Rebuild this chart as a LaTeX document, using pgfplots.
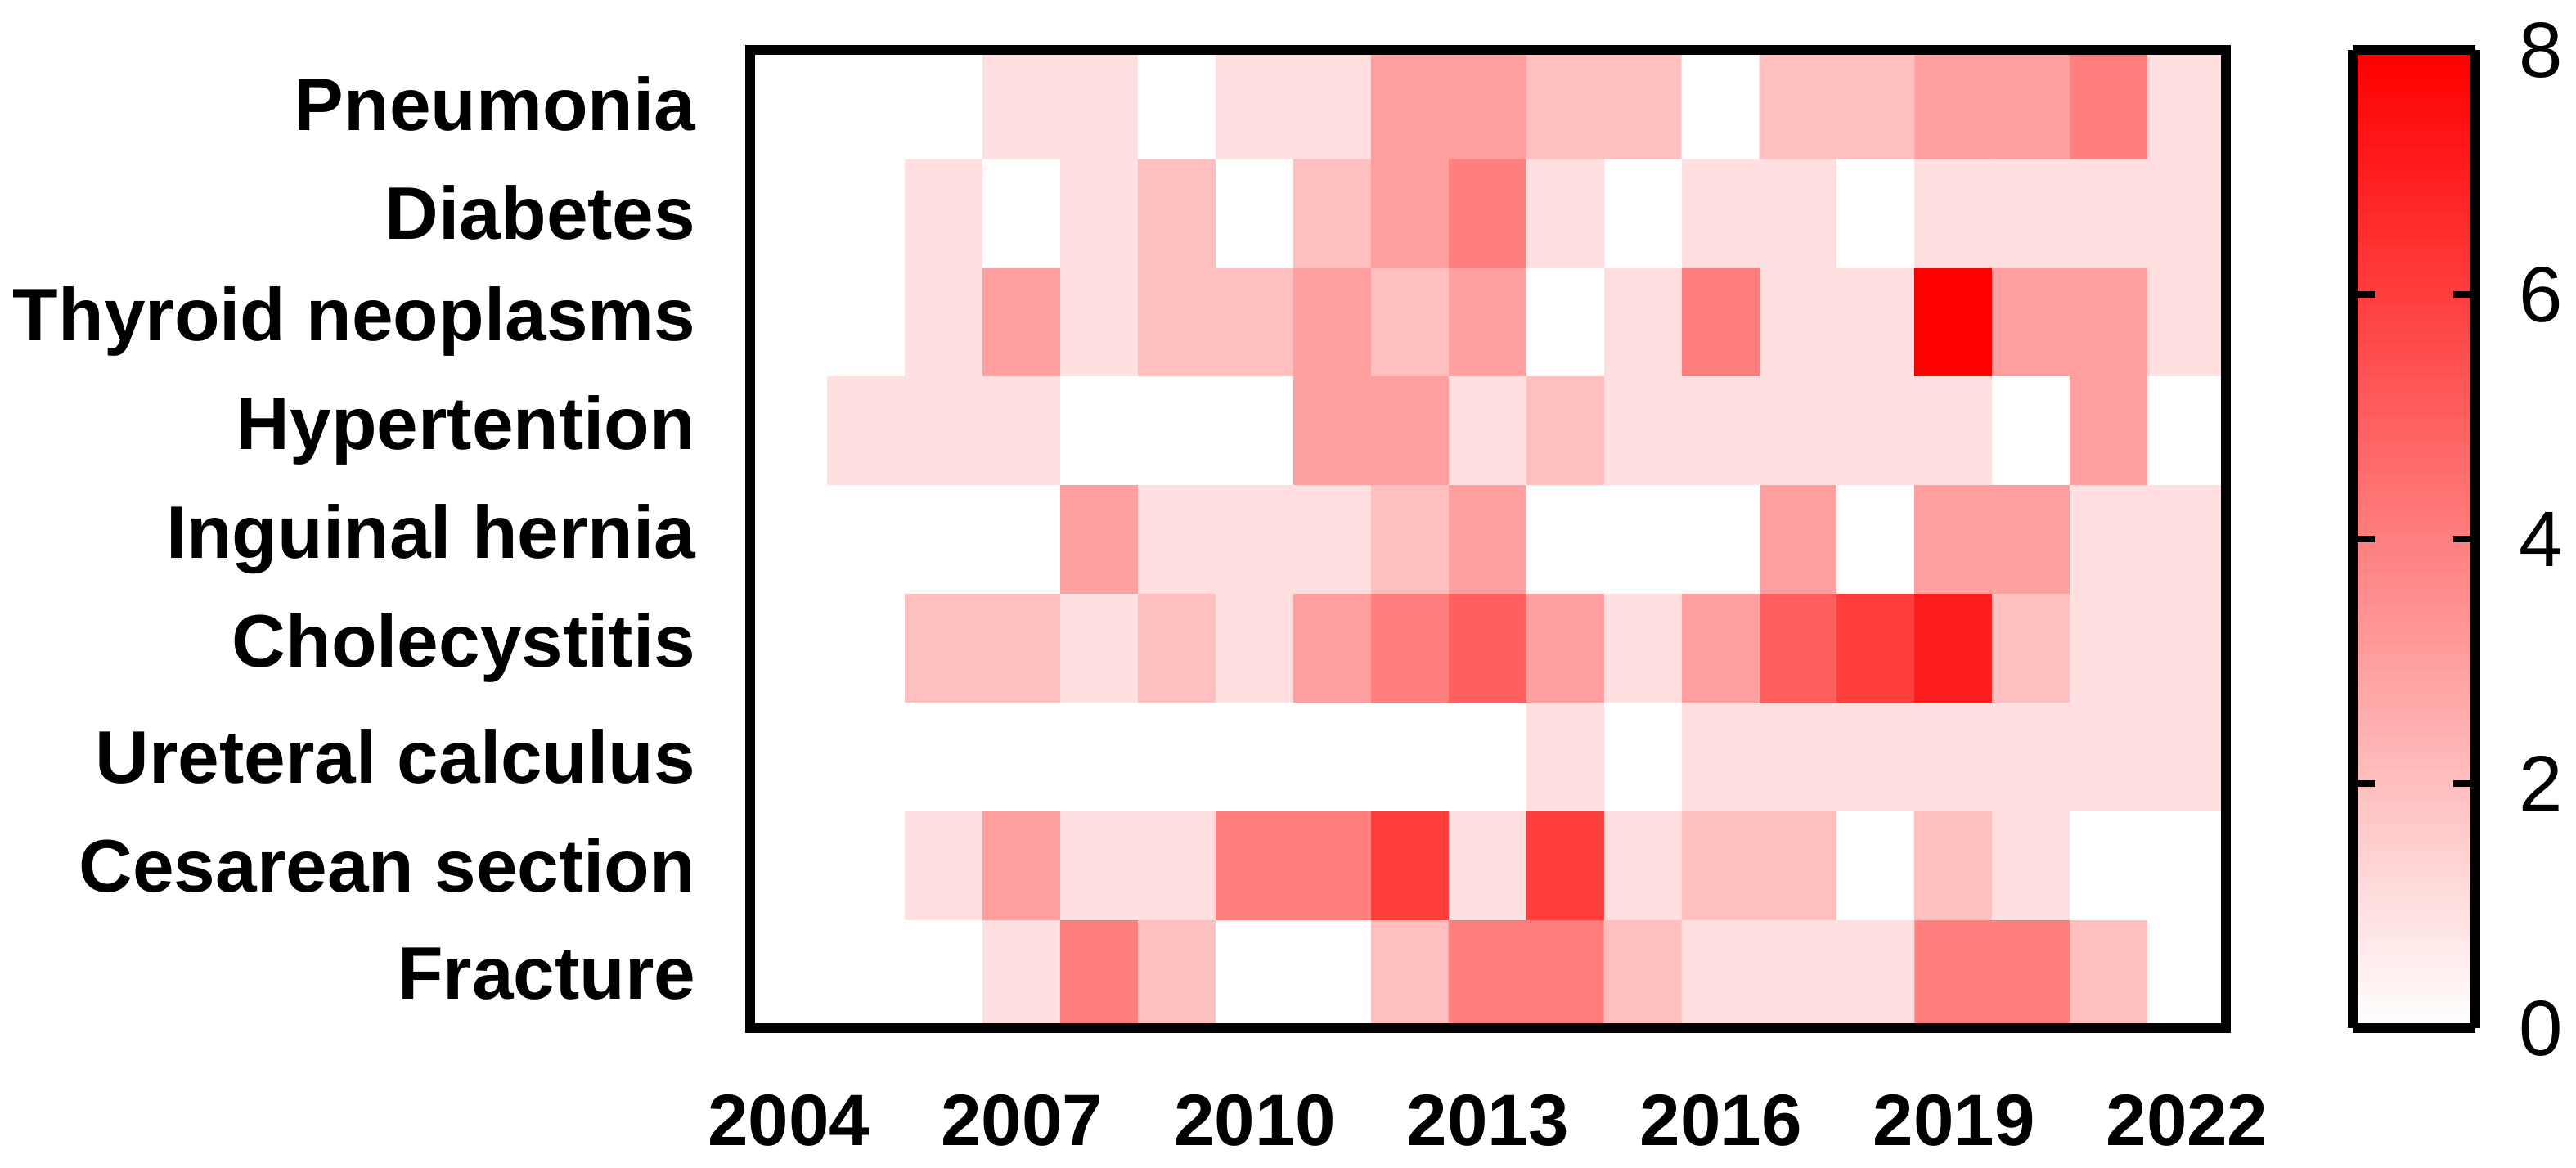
\documentclass[border=0pt]{standalone}
\usepackage{pgfplots}
\pgfplotsset{compat=1.18}
\usepackage{fontspec}
\setmainfont{Liberation Sans}
\begin{document}
\begin{tikzpicture}
\begin{axis}[
  name=main,
  scale only axis,
  width=451pt, height=299pt,
  xmin=-0.5, xmax=18.5, ymin=-0.5, ymax=8.5,
  axis on top,
  axis line style={line width=2.8pt, black},
  xtick={0,3,6,9,12,15,18},
  xticklabels={2004,2007,2010,2013,2016,2019,2022},
  ytick={0,1,2,3,4,5,6,7,8},
  yticklabels={Fracture,Cesarean section,Ureteral calculus,Cholecystitis,Inguinal hernia,Hypertention,Thyroid neoplasms,Diabetes,Pneumonia},
  major tick length=0pt,
  xticklabel style={font=\fontsize{22.25}{26}\selectfont\bfseries, inner sep=0pt, anchor=north, yshift=-20.25pt},
  yticklabel style={font=\fontsize{22.75}{26}\selectfont\bfseries, inner sep=0pt, anchor=east, xshift=-16.5pt},
  colormap={wr}{rgb255=(255,255,255) rgb255=(255,0,0)},
  point meta min=0, point meta max=8,
  colorbar sampled,
  colorbar style={
    samples=121,
    at={(parent axis.north east)}, anchor=north west, xshift=30.2pt,
    width=37.5pt,
    axis on top,
    axis line style={line width=2.8pt, black},
    ytick={0,2,4,6,8},
    yticklabels={0,2,4,6,8},
    yticklabel pos=right,
    tick align=inside,
    major tick length=6.8pt,
    tick style={line width=2pt, black},
    yticklabel style={font=\fontsize{24}{28}\selectfont, inner sep=0pt, anchor=west, xshift=13.25pt},
  },
]
\addplot[matrix plot*, mesh/cols=19, point meta=explicit] table[row sep=\\, x=x, y=y, meta=c] {
x y c\\
0 0 0\\1 0 0\\2 0 0\\3 0 1\\4 0 4\\5 0 2\\6 0 0\\7 0 0\\8 0 2\\9 0 4\\10 0 4\\11 0 2\\12 0 1\\13 0 1\\14 0 1\\15 0 4\\16 0 4\\17 0 2\\18 0 0\\
0 1 0\\1 1 0\\2 1 1\\3 1 3\\4 1 1\\5 1 1\\6 1 4\\7 1 4\\8 1 6\\9 1 1\\10 1 6\\11 1 1\\12 1 2\\13 1 2\\14 1 0\\15 1 2\\16 1 1\\17 1 0\\18 1 0\\
0 2 0\\1 2 0\\2 2 0\\3 2 0\\4 2 0\\5 2 0\\6 2 0\\7 2 0\\8 2 0\\9 2 0\\10 2 1\\11 2 0\\12 2 1\\13 2 1\\14 2 1\\15 2 1\\16 2 1\\17 2 1\\18 2 1\\
0 3 0\\1 3 0\\2 3 2\\3 3 2\\4 3 1\\5 3 2\\6 3 1\\7 3 3\\8 3 4\\9 3 5\\10 3 3\\11 3 1\\12 3 3\\13 3 5\\14 3 6\\15 3 7\\16 3 2\\17 3 1\\18 3 1\\
0 4 0\\1 4 0\\2 4 0\\3 4 0\\4 4 3\\5 4 1\\6 4 1\\7 4 1\\8 4 2\\9 4 3\\10 4 0\\11 4 0\\12 4 0\\13 4 3\\14 4 0\\15 4 3\\16 4 3\\17 4 1\\18 4 1\\
0 5 0\\1 5 1\\2 5 1\\3 5 1\\4 5 0\\5 5 0\\6 5 0\\7 5 3\\8 5 3\\9 5 1\\10 5 2\\11 5 1\\12 5 1\\13 5 1\\14 5 1\\15 5 1\\16 5 0\\17 5 3\\18 5 0\\
0 6 0\\1 6 0\\2 6 1\\3 6 3\\4 6 1\\5 6 2\\6 6 2\\7 6 3\\8 6 2\\9 6 3\\10 6 0\\11 6 1\\12 6 4\\13 6 1\\14 6 1\\15 6 8\\16 6 3\\17 6 3\\18 6 1\\
0 7 0\\1 7 0\\2 7 1\\3 7 0\\4 7 1\\5 7 2\\6 7 0\\7 7 2\\8 7 3\\9 7 4\\10 7 1\\11 7 0\\12 7 1\\13 7 1\\14 7 0\\15 7 1\\16 7 1\\17 7 1\\18 7 1\\
0 8 0\\1 8 0\\2 8 0\\3 8 1\\4 8 1\\5 8 0\\6 8 1\\7 8 1\\8 8 3\\9 8 3\\10 8 2\\11 8 2\\12 8 0\\13 8 2\\14 8 2\\15 8 3\\16 8 3\\17 8 4\\18 8 1\\
};
\end{axis}
\draw[line width=2pt, black]
  ([xshift=38.75pt,yshift=74.75pt]main.south east) -- ++(6.8pt,0pt)
  ([xshift=38.75pt,yshift=149.5pt]main.south east) -- ++(6.8pt,0pt)
  ([xshift=38.75pt,yshift=224.25pt]main.south east) -- ++(6.8pt,0pt);
\pgfresetboundingbox
\path ([xshift=-229.25pt,yshift=-42.75pt]main.south west) rectangle ([xshift=107pt,yshift=15.25pt]main.north east);
\end{tikzpicture}
\end{document}
